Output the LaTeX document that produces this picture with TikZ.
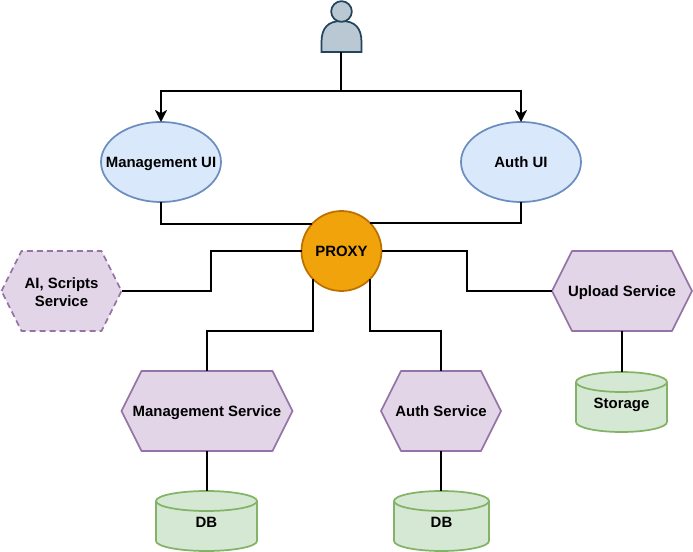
\documentclass[tikz,border=0pt]{standalone}
\usepackage{fontspec}
\setmainfont{Liberation Sans}
\usetikzlibrary{arrows.meta,shapes.geometric}
\definecolor{uifill}{HTML}{DAE8FC}\definecolor{uiline}{HTML}{6C8EBF}
\definecolor{svcfill}{HTML}{E1D5E7}\definecolor{svcline}{HTML}{9673A6}
\definecolor{dbfill}{HTML}{D5E8D4}\definecolor{dbline}{HTML}{82B366}
\definecolor{pxfill}{HTML}{F0A30A}\definecolor{pxline}{HTML}{BD7000}
\definecolor{psfill}{HTML}{BAC8D3}\definecolor{psline}{HTML}{23445D}
\tikzset{
  x=0.75pt,y=-0.75pt,
  label text/.style={font=\fontsize{11.2}{13.5}\selectfont\bfseries,align=center,text=black},
  oneline/.style={text height=10.5pt,text depth=2pt},
  uinode/.style={ellipse,draw=uiline,fill=uifill,line width=1.3pt,minimum width=90pt,minimum height=60pt,inner xsep=-12pt,inner ysep=0pt,outer sep=0pt,label text,oneline},
  svcbox/.style={rectangle,inner sep=0pt,outer sep=0pt,minimum height=60pt,label text},
  svcshape/.style={draw=svcline,fill=svcfill,line width=1.3pt,line join=round},
  svcdash/.style={dash pattern=on 4.5pt off 3pt},
  dbbox/.style={rectangle,inner sep=0pt,outer sep=0pt,label text,oneline},
  pxnode/.style={circle,draw=pxline,fill=pxfill,line width=1.3pt,minimum size=60pt,inner sep=0pt,outer sep=0pt,label text,oneline},
  link/.style={draw=black,line width=1.4pt},
  linkarrow/.style={link,-{Stealth[length=9pt,width=9pt,inset=2.5pt]}},
  dbshape/.style={draw=dbline,fill=dbfill,line width=1.3pt},
}
\newcommand{\dbcyl}[5]{% name, cx, top, width, text
  \pgfmathsetmacro{\hw}{#4/2}
  \path[dbshape] (#2-\hw,#3+10) .. controls (#2-\hw,#3+4.5) and (#2-\hw*0.55,#3) .. (#2,#3)
     .. controls (#2+\hw*0.55,#3) and (#2+\hw,#3+4.5) .. (#2+\hw,#3+10)
     -- (#2+\hw,#3+50) .. controls (#2+\hw,#3+55.5) and (#2+\hw*0.55,#3+60) .. (#2,#3+60)
     .. controls (#2-\hw*0.55,#3+60) and (#2-\hw,#3+55.5) .. (#2-\hw,#3+50) -- cycle;
  \draw[draw=dbline,line width=1.3pt] (#2-\hw,#3+10) .. controls (#2-\hw,#3+15.5) and (#2-\hw*0.55,#3+20) .. (#2,#3+20)
     .. controls (#2+\hw*0.55,#3+20) and (#2+\hw,#3+15.5) .. (#2+\hw,#3+10);
  \node[dbbox,minimum width=#4*0.75pt,minimum height=45pt] (#1) at (#2,#3+30.5) {#5};
}
\newcommand{\hexn}[7]{% shape extra, node extra, name, cx, cy, half width, text
  \path[svcshape,#1] (#4-#6,#5) -- (#4-#6+20,#5-40) -- (#4+#6-20,#5-40) -- (#4+#6,#5) -- (#4+#6-20,#5+40) -- (#4-#6+20,#5+40) -- cycle;
  \node[svcbox,minimum width=#6*1.5pt,#2] (#3) at (#4,#5) {#7};
}
\begin{document}
\begin{tikzpicture}
\useasboundingbox (0,0) rectangle (693,552);
% person
\node[rectangle,inner sep=0pt,outer sep=0pt,minimum width=30.75pt,minimum height=38.25pt] (person) at (341,26.5) {};
\path[draw=psline,fill=psfill,line width=1.3pt] (321.5,52) -- (321.5,42) .. controls (321.5,28) and (328,21) .. (341.5,21) .. controls (355,21) and (361.5,28) .. (361.5,42) -- (361.5,52) -- cycle;
\node[circle,draw=psline,fill=psfill,line width=1.3pt,minimum size=15.5pt,inner sep=0pt,outer sep=0pt] (head) at (341.5,11.5) {};
% nodes
\node[uinode] (mui) at (161,162) {Management UI};
\node[uinode] (aui) at (521,162) {Auth UI};
\hexn{svcdash}{}{ai}{61.5}{291}{60}{\rule{0pt}{9.8pt}AI, Scripts\\Service}
\hexn{}{oneline}{up}{622}{291}{70}{Upload Service}
\hexn{}{oneline}{ms}{207}{411}{85.5}{Management Service}
\hexn{}{oneline}{as}{441}{411}{60}{Auth Service}
\dbcyl{st}{621.5}{372}{91}{Storage}
\dbcyl{dba}{206.5}{491}{101}{DB}
\dbcyl{dbb}{441.5}{491}{95}{DB}
% junctions
\coordinate (top) at (341,91);
\coordinate (jai) at (211,291);
\coordinate (jup) at (467,291);
\coordinate (jms) at (207,331);
\coordinate (jas) at (441,331);
\node[pxnode] (px) at (341.5,251) {PROXY};
% connectors
\draw[linkarrow] (person.south) -- (top) -| (mui.north);
\draw[linkarrow] (person.south) -- (top) -| (aui.north);
\draw[link] (mui.south) |- (px.138.5);
\draw[link] (aui.south) |- (px.44);
\draw[link] (ai.east) -- (jai) |- (px.west);
\draw[link] (up.west) -- (jup) |- (px.east);
\draw[link] (px.225) |- (jms) -- (ms.north);
\draw[link] (px.315) |- (jas) -- (as.north);
\draw[link] (up.south) -- (up.south |- 0,372);
\draw[link] (ms.south) -- (ms.south |- 0,491);
\draw[link] (as.south) -- (as.south |- 0,491);
\end{tikzpicture}
\end{document}
